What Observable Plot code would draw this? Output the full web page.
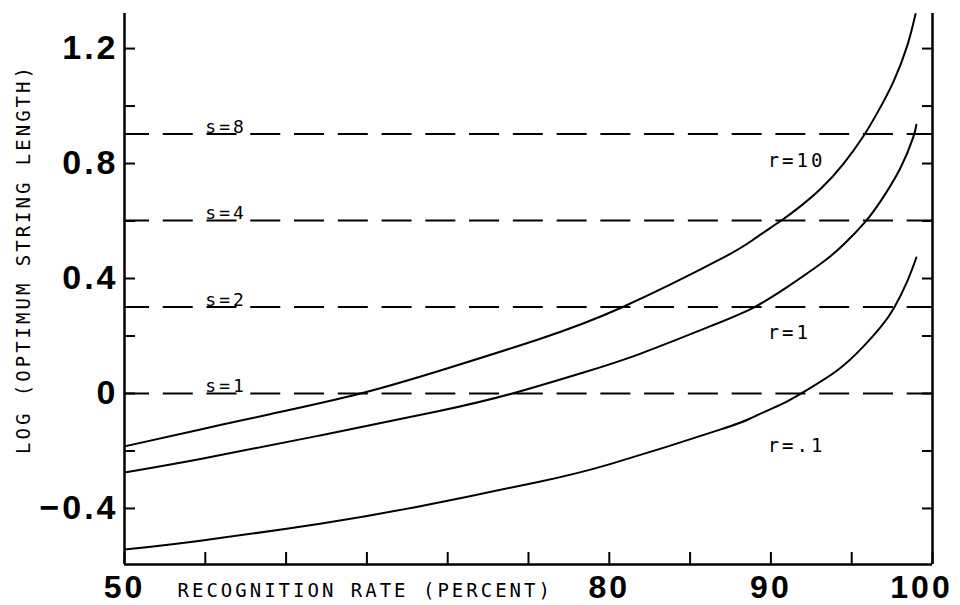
<!DOCTYPE html>
<html>
<head>
<meta charset="utf-8">
<script src="https://cdn.jsdelivr.net/npm/d3@7"></script>
<script src="https://cdn.jsdelivr.net/npm/@observablehq/plot@0.6"></script>
<style>
  html, body { margin: 0; padding: 0; background: #fff; }
  #chart svg { display: block; }
</style>
</head>
<body>
<div id="chart"></div>
<script>
// ---- data ----
// recognition rate (percent) and log10(optimum string length) for each r
const rateR10 = [50, 54.7, 59.0, 64.6, 70.0, 75.6, 80.8, 86.9, 88.9, 90.6, 91.8, 93.1, 94.5, 95.7, 96.6, 97.6, 98.45, 98.95];
const logLenR10 = [-0.184, -0.125, -0.072, 0.0, 0.088, 0.188, 0.30, 0.468, 0.535, 0.600, 0.650, 0.713, 0.800, 0.893, 0.978, 1.087, 1.212, 1.32];

const rateR1 = [50, 54.7, 62.1, 69.4, 74.0, 78.4, 81.9, 86.3, 88.9, 91.0, 93.1, 94.5, 95.85, 96.8, 98.0, 98.8, 99.0];
const logLenR1 = [-0.275, -0.228, -0.146, -0.062, 0.0, 0.073, 0.138, 0.235, 0.298, 0.370, 0.452, 0.518, 0.598, 0.670, 0.783, 0.89, 0.935];

const rateR01 = [50, 54.7, 62.1, 68.3, 75.6, 80.1, 86.9, 88.9, 90.6, 92.1, 94.1, 95.7, 96.8, 97.6, 98.45, 99.0];
const logLenR01 = [-0.543, -0.512, -0.453, -0.392, -0.308, -0.245, -0.125, -0.082, -0.039, 0.008, 0.080, 0.162, 0.232, 0.296, 0.392, 0.473];

// reference string lengths (dashed lines)
const sLevels = [1, 2, 4, 8];

// curve labels
const rNames = ["r=10", "r=1", "r=.1"];
const rLabelRate = [89.8, 89.8, 89.8];
const rLabelLog = [0.81, 0.212, -0.181];

// axes
const xDomain = [50, 100];
const yDomain = [-0.595, 1.322];
const xMinorTicks = [50, 55, 60, 65, 70, 75, 80, 85, 90, 95, 100];
const xTickLabels = [50, 80, 90];
const xEndLabel = [100];
const yMinorTicks = [-0.4, -0.2, 0, 0.2, 0.4, 0.6, 0.8, 1.0, 1.2];
const yTickLabels = [-0.4, 0, 0.4, 0.8, 1.2];
const xTitle = "RECOGNITION RATE (PERCENT)";
const yTitle = "LOG (OPTIMUM STRING LENGTH)";

// ---- build tables ----
const rows = [
  ...rateR10.map((x, i) => ({r: "10", x, y: logLenR10[i]})),
  ...rateR1.map((x, i) => ({r: "1", x, y: logLenR1[i]})),
  ...rateR01.map((x, i) => ({r: ".1", x, y: logLenR01[i]}))
];
const rLabels = rNames.map((t, i) => ({t, x: rLabelRate[i], y: rLabelLog[i]}));

const mono = "'DejaVu Sans Mono', monospace";
const bold = "'Liberation Sans', Arial, sans-serif";
const fmtY = d => d === 0 ? "0" : (d < 0 ? "\u2212" : "") + Math.abs(d).toFixed(1);

const chart = Plot.plot({
  width: 960,
  height: 605,
  marginLeft: 124,
  marginRight: 28,
  marginTop: 13,
  marginBottom: 41,
  x: {domain: xDomain, axis: null},
  y: {domain: yDomain, axis: null},
  style: {background: "#fff", color: "#000"},
  marks: [
    // dashed reference lines
    Plot.ruleY(sLevels, {y: d => Math.log10(d), stroke: "#000", strokeWidth: 2, strokeDasharray: "30,13.76", strokeDashoffset: 5}),
    Plot.text(sLevels, {x: 55, y: d => Math.log10(d), text: d => "s=" + d, textAnchor: "start", lineAnchor: "bottom", dy: -1, fontFamily: mono, fontSize: 18, fill: "#000"}),
    // curves
    Plot.line(rows, {x: "x", y: "y", z: "r", curve: "natural", stroke: "#000", strokeWidth: 2, clip: true}),
    Plot.text(rLabels, {x: "x", y: "y", text: "t", textAnchor: "start", fontFamily: mono, fontSize: 19, fill: "#000"}),
    // frame: left, right, bottom
    Plot.ruleX(xDomain, {stroke: "#000", strokeWidth: 2.5}),
    Plot.ruleY([yDomain[0]], {stroke: "#000", strokeWidth: 2.5}),
    // inward ticks
    Plot.axisY(yMinorTicks, {anchor: "left", tickSize: -11, tickFormat: () => "", strokeWidth: 2, label: null}),
    Plot.axisY(yMinorTicks, {anchor: "right", tickSize: -11, tickFormat: () => "", strokeWidth: 2, label: null}),
    Plot.axisX(xMinorTicks, {anchor: "bottom", tickSize: -12, tickFormat: () => "", strokeWidth: 2, label: null}),
    // tick labels
    Plot.axisY(yTickLabels, {anchor: "left", tickSize: 0, tickPadding: 6, tickFormat: fmtY, fontSize: 34, fontWeight: "bold", fontFamily: bold, label: null}),
    Plot.axisX(xTickLabels, {anchor: "bottom", tickSize: 0, tickPadding: 11, tickFormat: d => String(d), fontSize: 32, fontWeight: "bold", fontFamily: bold, label: null}),
    Plot.axisX(xEndLabel, {anchor: "bottom", tickSize: 0, tickPadding: 11, tickFormat: d => String(d), fontSize: 32, fontWeight: "bold", fontFamily: bold, label: null, dx: -11}),
    // axis titles
    Plot.text([xTitle], {frameAnchor: "bottom-left", text: d => d, textAnchor: "start", lineAnchor: "middle", dx: 53, dy: 26, fontFamily: mono, fontSize: 19, fill: "#000"}),
    Plot.text([yTitle], {frameAnchor: "left", text: d => d, rotate: -90, textAnchor: "middle", lineAnchor: "middle", dx: -101, dy: -30, fontFamily: mono, fontSize: 19, fill: "#000"})
  ]
});
// plotter-style wide lettering
chart.querySelectorAll('[font-family*="DejaVu"]').forEach(g => { g.style.letterSpacing = "3px"; });
chart.querySelectorAll('[font-weight="bold"]').forEach(g => { g.style.letterSpacing = "3px"; });
document.getElementById("chart").appendChild(chart);
</script>
</body>
</html>
